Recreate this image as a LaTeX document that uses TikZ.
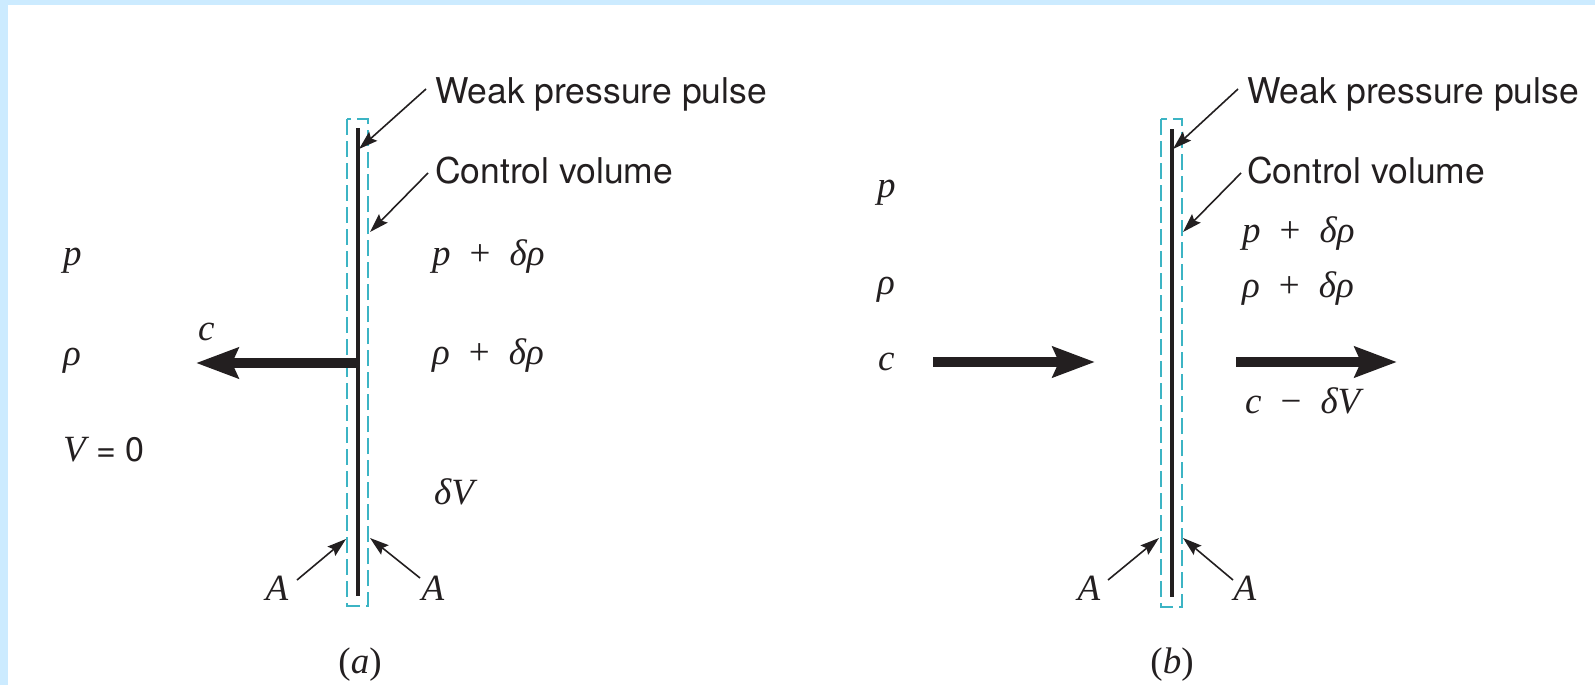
\documentclass[tikz,border=0pt]{standalone}
\usepackage{fontspec}
\setmainfont{Liberation Serif}
\newfontfamily\labfont{TeX Gyre Heros}
\usetikzlibrary{arrows.meta}
\definecolor{ink}{RGB}{35,31,32}
\definecolor{cvcol}{RGB}{60,180,196}
\definecolor{bgblue}{RGB}{204,235,255}
\tikzset{
  wall/.style={line width=4.6pt, draw=ink},
  cvbox/.style={draw=cvcol, line width=1.3pt, dash pattern=on 16pt off 6pt},
  ptr/.style={draw=ink, line width=1.6pt, -{Stealth[length=19pt,width=12pt,inset=3pt]}},
  flow/.style={draw=ink, line width=9.5pt, -{Stealth[length=42pt,width=30pt,inset=6pt]}},
  mlab/.style={font=\fontsize{37}{42}\selectfont\itshape, text=ink, inner sep=0pt},
  slab/.style={font=\fontsize{35.5}{40}\selectfont\labfont, text=ink, inner sep=0pt}
}
\newcommand{\gap}{\hspace{19pt}}
\begin{document}
\begin{tikzpicture}[x=1pt,y=-1pt]
\useasboundingbox (0,0) rectangle (1595,685);
\fill[bgblue] (0,0) rectangle (1595,685);
\fill[white] (8,5) rectangle (1595,685);

% ---------------- panel (a) ----------------
\draw[cvbox] (347,119) rectangle (368,606);
\coordinate (aT) at (358,128);
\coordinate (aB) at (358,596);
\draw[wall] (aT) -- (aB);

\node[slab, anchor=base west] (aWeak) at (435,103) {Weak pressure pulse};
\node[slab, anchor=base west] (aCV) at (435,183) {Control volume};
\coordinate (aWeakS) at (426,89);
\coordinate (aWeakE) at (359,149);
\coordinate (aCVS) at (428,173);
\coordinate (aCVE) at (370,232);
\draw[ptr] (aWeakS) -- (aWeakE);
\draw[ptr] (aCVS) -- (aCVE);

\node[mlab, anchor=mid west] (ap) at (63,263) {p};
\node[mlab, anchor=mid west] (arho) at (63,363) {ρ};
\node[mlab, anchor=west] (aV) at (63,450) {V\hspace{11pt}{\upshape\labfont\fontsize{34}{40}\selectfont =\hspace{9pt}0}};

\coordinate (aArrS) at (358,363);
\coordinate (aArrE) at (196,363);
\draw[flow] (aArrS) -- (aArrE);
\node[mlab, anchor=mid west] (ac) at (198,338) {c};

\node[mlab, anchor=mid west] (apd) at (432,263) {p\gap{\upshape +}\gap δρ};
\node[mlab, anchor=mid west] (arhod) at (432,362) {ρ\gap{\upshape +}\gap δρ};
\node[mlab, anchor=west] (adV) at (434,492) {δV};

\node[mlab, anchor=center] (aAl) at (277,588) {A};
\node[mlab, anchor=center] (aAr) at (433,588) {A};
\coordinate (aAlS) at (297,580);
\coordinate (aAlE) at (346,539);
\coordinate (aArS) at (420,578);
\coordinate (aArE) at (370,538);
\draw[ptr] (aAlS) -- (aAlE);
\draw[ptr] (aArS) -- (aArE);

\node[mlab, anchor=center] (acap) at (360,665) {{\upshape(}a{\upshape)}};

% ---------------- panel (b) ----------------
\draw[cvbox] (1161,119) rectangle (1182,607);
\coordinate (bT) at (1172,129);
\coordinate (bB) at (1172,597);
\draw[wall] (bT) -- (bB);

\node[slab, anchor=base west] (bWeak) at (1247,103) {Weak pressure pulse};
\node[slab, anchor=base west] (bCV) at (1247,183) {Control volume};
\coordinate (bWeakS) at (1238,89);
\coordinate (bWeakE) at (1173,149);
\coordinate (bCVS) at (1241,173);
\coordinate (bCVE) at (1183,232);
\draw[ptr] (bWeakS) -- (bWeakE);
\draw[ptr] (bCVS) -- (bCVE);

\node[mlab, anchor=mid west] (bp) at (877,195) {p};
\node[mlab, anchor=mid west] (brho) at (877,292) {ρ};
\node[mlab, anchor=mid west] (bc) at (878,368) {c};

\coordinate (bInS) at (933,362);
\coordinate (bInE) at (1095,362);
\draw[flow] (bInS) -- (bInE);
\coordinate (bOutS) at (1236,362);
\coordinate (bOutE) at (1397,362);
\draw[flow] (bOutS) -- (bOutE);

\node[mlab, anchor=mid west] (bpd) at (1242,240) {p\gap{\upshape +}\gap δρ};
\node[mlab, anchor=mid west] (brhod) at (1242,295) {ρ\gap{\upshape +}\gap δρ};
\node[mlab, anchor=mid west] (bcdV) at (1245,411) {c\gap{\upshape −}\gap δV};

\node[mlab, anchor=center] (bAl) at (1089,588) {A};
\node[mlab, anchor=center] (bAr) at (1245,588) {A};
\coordinate (bAlS) at (1108,580);
\coordinate (bAlE) at (1159,538);
\coordinate (bArS) at (1233,580);
\coordinate (bArE) at (1183,538);
\draw[ptr] (bAlS) -- (bAlE);
\draw[ptr] (bArS) -- (bArE);

\node[mlab, anchor=center] (bcap) at (1172,665) {{\upshape(}b{\upshape)}};
\end{tikzpicture}
\end{document}
